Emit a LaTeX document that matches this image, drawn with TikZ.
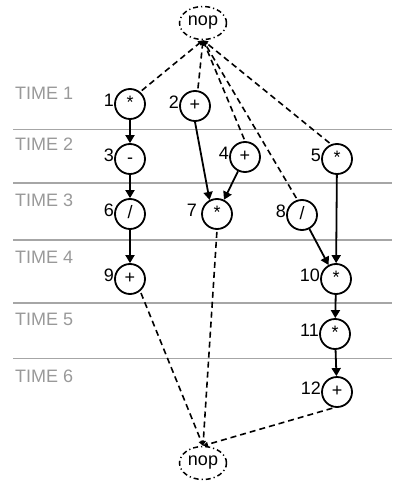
\documentclass[tikz,border=0pt]{standalone}
\usepackage{fontspec}
\setmainfont{Liberation Sans}
\usetikzlibrary{arrows.meta,shapes.geometric}
\definecolor{lanegray}{RGB}{166,166,166}
\definecolor{timegray}{RGB}{153,153,153}
\begin{document}
\begin{tikzpicture}[x=1pt,y=-1pt,
  every node/.style={font=\fontsize{18}{20}\selectfont},
  every label/.style={inner sep=0pt},
  op/.style={circle,draw,line width=1.8pt,minimum size=30pt,inner sep=0pt,
             text height=0.9em,text depth=0pt,label distance=1pt},
  nopnode/.style={ellipse,draw,line width=1.5pt,minimum width=47pt,minimum height=33pt,
             inner sep=0pt,dash pattern=on 5pt off 3pt on 1.2pt off 3pt},
  timelabel/.style={anchor=base west,inner sep=0pt,text=timegray},
  lane/.style={draw=lanegray,line width=1.8pt},
  flow/.style={line width=1.8pt,-{Triangle[length=8pt,width=9pt]}},
  dep/.style={line width=1.6pt,dash pattern=on 6pt off 4pt,shorten <=2pt,
              -{Triangle[length=5pt,width=5pt]}}]
\useasboundingbox (0,0) rectangle (392,481);

% time step separators
\coordinate (l1a) at (13,129.5); \coordinate (l1b) at (392,129.5);
\coordinate (l2a) at (13,183);   \coordinate (l2b) at (392,183);
\coordinate (l3a) at (13,240);   \coordinate (l3b) at (392,240);
\coordinate (l4a) at (13,303);   \coordinate (l4b) at (392,303);
\coordinate (l5a) at (13,358.5); \coordinate (l5b) at (392,358.5);
\draw[lane] (l1a) -- (l1b);
\draw[lane] (l2a) -- (l2b);
\draw[lane] (l3a) -- (l3b);
\draw[lane] (l4a) -- (l4b);
\draw[lane] (l5a) -- (l5b);

% time step names
\node[timelabel] (t1) at (15,100) {TIME 1};
\node[timelabel] (t2) at (15,150) {TIME 2};
\node[timelabel] (t3) at (15,206) {TIME 3};
\node[timelabel] (t4) at (15,263) {TIME 4};
\node[timelabel] (t5) at (15,325) {TIME 5};
\node[timelabel] (t6) at (15,382) {TIME 6};

% source and sink
\node[nopnode] (nopT) at (203,23) {nop};
\node[nopnode] (nopB) at (203,463) {nop};

% operations
\node[op,label={[yshift=4pt]left:1}]  (n1)  at (130,104) {*};
\node[op,label={[yshift=4pt]left:2}]  (n2)  at (195,106) {+};
\node[op,label={[yshift=4pt]left:3}]  (n3)  at (130,159) {-};
\node[op,label={[yshift=4pt]left:4}]  (n4)  at (245,157) {+};
\node[op,label={[yshift=4pt]left:5}]  (n5)  at (337,159) {*};
\node[op,label={[yshift=4pt]left:6}]  (n6)  at (130,214) {/};
\node[op,label={[yshift=4pt,label distance=4pt]left:7}] (n7) at (217,214) {*};
\node[op,label={[yshift=4pt]left:8}]  (n8)  at (302,215) {/};
\node[op,label={[yshift=4pt]left:9}]  (n9)  at (130,279) {+};
\node[op,label={[yshift=4pt]left:10}] (n10) at (336,279) {*};
\node[op,label={[yshift=4pt]left:11}] (n11) at (335,334) {*};
\node[op,label={[yshift=4pt]left:12}] (n12) at (337,392) {+};

% data dependencies
\draw[flow] (n1) -- (n3);
\draw[flow] (n3) -- (n6);
\draw[flow] (n6) -- (n9);
\draw[flow] (n2.south) -- (n7.118);
\draw[flow] (n4) -- (n7);
\draw[flow] (n8) -- (n10);
\draw[flow] (n5) -- (n10);
\draw[flow] (n10) -- (n11);
\draw[flow] (n11) -- (n12);

% edges to the source
\draw[dep] (n1.50)    -- (nopT.south);
\draw[dep] (n2.80)    -- (nopT.south);
\draw[dep] (n4.north) -- (nopT.south);
\draw[dep] (n8.107)   -- (nopT.south);
\draw[dep] (n5.112)   -- (nopT.south);

% edges to the sink
\draw[dep] (n9.-50)   -- (nopB.north);
\draw[dep] (n7.south) -- (nopB.north);
\draw[dep] (n12.-100) -- (nopB.north);
\end{tikzpicture}
\end{document}
